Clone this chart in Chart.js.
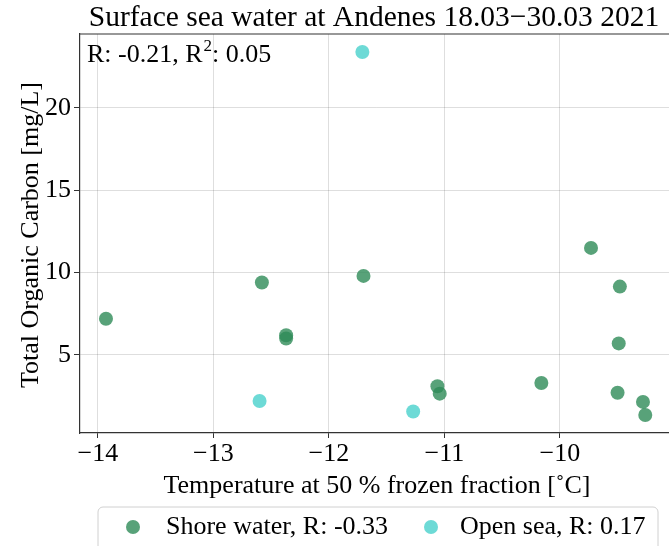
<!DOCTYPE html>
<html>
<head>
<meta charset="utf-8">
<script src="https://cdn.jsdelivr.net/npm/chart.js@4"></script>
<style>
  html, body { margin: 0; padding: 0; background: #fff; overflow: hidden; }
  canvas { display: block; }
</style>
</head>
<body>
<canvas id="c" width="680" height="546"></canvas>
<script>
// values
const shoreX = [-13.93, -12.58, -12.37, -12.37, -11.70, -11.06, -11.04, -10.16, -9.73, -9.48, -9.49, -9.50, -9.28, -9.26];
const shoreY = [7.2, 9.4, 6.2, 6.0, 9.8, 3.1, 2.65, 3.3, 11.5, 9.15, 5.7, 2.7, 2.15, 1.35];
const openX  = [-11.71, -12.60, -11.27];
const openY  = [23.4, 2.2, 1.57];
const xTicks = [-14, -13, -12, -11, -10];
const yTicks = [5, 10, 15, 20];

const titleText  = 'Surface sea water at Andenes 18.03\u221230.03 2021';
const xLabel     = 'Temperature at 50 % frozen fraction [\u02daC]';
const yLabel     = 'Total Organic Carbon [mg/L]';
const legendText = ['Shore water, R: -0.33', 'Open sea, R: 0.17'];

const SERIF  = '"Liberation Serif", "DejaVu Serif", serif';
const GREEN  = 'rgba(46,139,87,0.8)';
const TURQ   = 'rgba(72,209,204,0.8)';

const pts = (xs, ys) => xs.map((x, i) => ({ x, y: ys[i] }));

const decor = {
  id: 'decor',
  afterDraw(chart) {
    const { ctx, chartArea: a } = chart;
    ctx.save();
    // top spine
    ctx.strokeStyle = '#333'; ctx.lineWidth = 1.2;
    ctx.beginPath(); ctx.moveTo(a.left, a.top); ctx.lineTo(a.right + 2, a.top); ctx.stroke();

    ctx.fillStyle = '#000';
    // title
    ctx.font = '29.5px ' + SERIF; ctx.textAlign = 'center'; ctx.textBaseline = 'alphabetic';
    ctx.fillText(titleText, 374, 26);
    // x label
    ctx.font = '26px ' + SERIF;
    ctx.fillText(xLabel, 377, 493);
    // y label
    ctx.save(); ctx.translate(38, 235); ctx.rotate(-Math.PI / 2);
    ctx.fillText(yLabel, 0, 0); ctx.restore();

    // annotation with superscript
    ctx.textAlign = 'left';
    ctx.font = '26px ' + SERIF;
    let x = 87; const base = 62;
    const p1 = 'R: -0.21, R';
    ctx.fillText(p1, x, base); x += ctx.measureText(p1).width;
    ctx.font = '17px ' + SERIF;
    ctx.fillText('2', x + 1, base - 11); x += ctx.measureText('2').width + 1;
    ctx.font = '26px ' + SERIF;
    ctx.fillText(': 0.05', x, base);

    // legend box
    const lx = 98, ly = 507, lw = 560, lh = 50, r = 5;
    ctx.fillStyle = 'rgba(255,255,255,0.8)'; ctx.strokeStyle = '#d0d0d0'; ctx.lineWidth = 1;
    ctx.beginPath(); ctx.roundRect(lx, ly, lw, lh, r); ctx.fill(); ctx.stroke();
    const cols = [GREEN, TURQ], mx = [133, 431], tx = [166, 460];
    ctx.font = '26px ' + SERIF; ctx.textBaseline = 'alphabetic';
    for (let i = 0; i < 2; i++) {
      ctx.fillStyle = cols[i];
      ctx.beginPath(); ctx.arc(mx[i], 527, 7, 0, Math.PI * 2); ctx.fill();
      ctx.fillStyle = '#000';
      ctx.fillText(legendText[i], tx[i], 534);
    }
    ctx.restore();
  }
};

new Chart(document.getElementById('c'), {
  type: 'scatter',
  data: { datasets: [
    { label: legendText[0], data: pts(shoreX, shoreY), backgroundColor: GREEN, borderWidth: 0, pointRadius: 7, pointHoverRadius: 7 },
    { label: legendText[1], data: pts(openX, openY),   backgroundColor: TURQ,  borderWidth: 0, pointRadius: 7, pointHoverRadius: 7 },
  ]},
  options: {
    responsive: false, animation: false,
    layout: { padding: { top: 34, left: 0, right: 4, bottom: 0 } },
    plugins: { legend: { display: false }, title: { display: false }, tooltip: { enabled: false } },
    scales: {
      x: {
        type: 'linear', min: -14.155, max: -9.02,
        afterFit: s => { s.height = 113; },
        afterBuildTicks: s => { s.ticks = xTicks.map(v => ({ value: v })); },
        grid: { color: 'rgba(0,0,0,0.13)', tickColor: '#333', tickLength: 5, drawTicks: true },
        border: { color: '#333', width: 1.2 },
        ticks: { color: '#000', font: { family: SERIF, size: 26 }, padding: 1, maxRotation: 0,
                 callback: v => String(v).replace('-', '\u2212') },
      },
      y: {
        type: 'linear', min: 0.26, max: 24.49,
        afterFit: s => { s.width = 80; },
        afterBuildTicks: s => { s.ticks = yTicks.map(v => ({ value: v })); },
        grid: { color: 'rgba(0,0,0,0.13)', tickColor: '#333', tickLength: 6, drawTicks: true },
        border: { color: '#333', width: 1.2 },
        ticks: { color: '#000', font: { family: SERIF, size: 26 }, padding: 3 },
      },
    },
  },
  plugins: [decor],
});
</script>
</body>
</html>
